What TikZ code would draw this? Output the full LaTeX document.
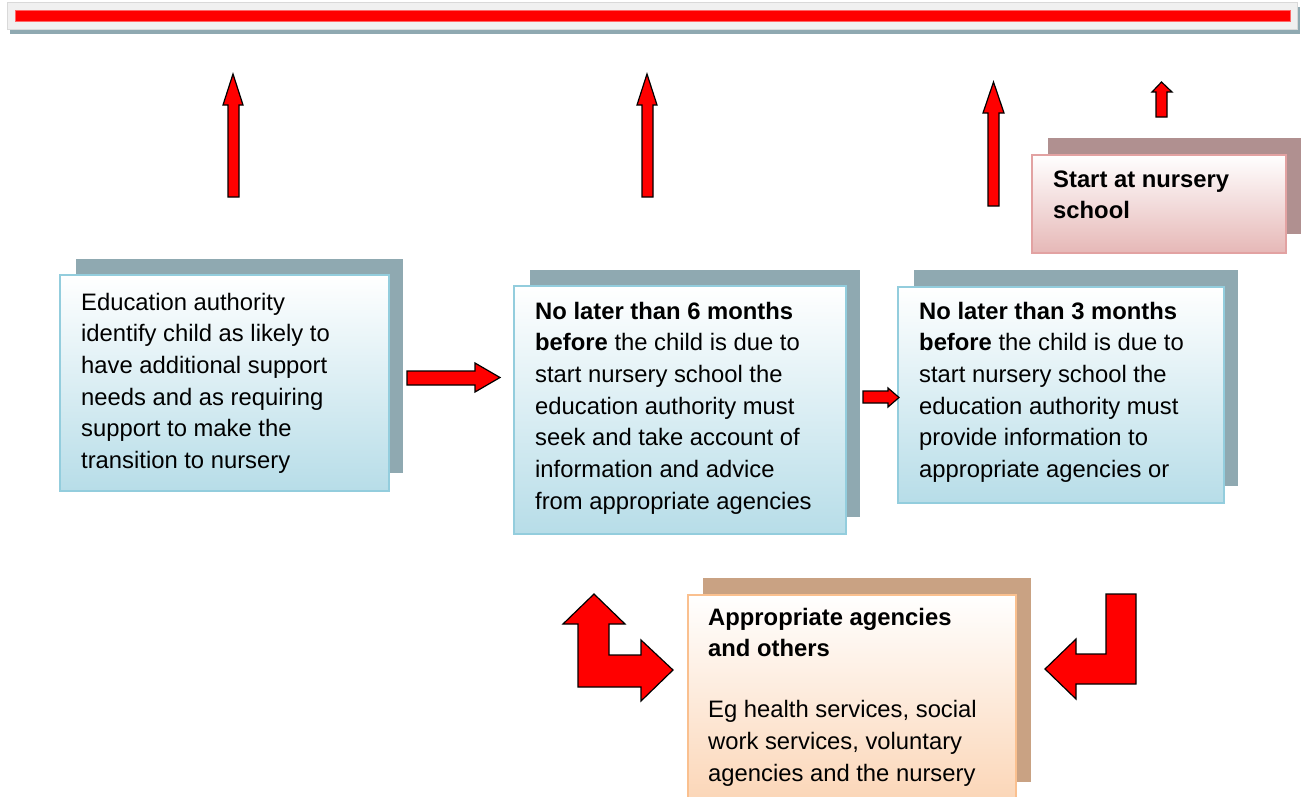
\documentclass[tikz,border=0pt]{standalone}
\usepackage{fontspec}
\setmainfont{Liberation Sans}
\definecolor{shadowblue}{HTML}{8FA9B1}
\definecolor{edgeblue}{HTML}{93CDDD}
\definecolor{fillblue}{HTML}{B7DDE8}
\definecolor{shadowrose}{HTML}{B09090}
\definecolor{edgerose}{HTML}{E2A2A2}
\definecolor{fillrose}{HTML}{E6B8B7}
\definecolor{shadowtan}{HTML}{C9A283}
\definecolor{edgetan}{HTML}{FAC08F}
\definecolor{filltan}{HTML}{FBD4B4}
\definecolor{barbg}{HTML}{F0F0F0}
\begin{document}
\begin{tikzpicture}[x=1pt,y=-1pt,
  shadowbox/.style={fill=#1, draw=none, anchor=north west, inner sep=0pt},
  frontbox/.style 2 args={draw=#1, line width=1.6pt, top color=white, bottom color=#2, anchor=north west, inner sep=0pt},
  txt/.style={anchor=north west, inner sep=0pt, align=left, font=\fontsize{23.8}{31.7}\selectfont},
  blockarrow/.style={fill=red, draw=black, line width=1.2pt, line join=miter}]
\useasboundingbox (0,0) rectangle (1304,796);

% top bar
\node[shadowbox=shadowblue, minimum width=1290pt, minimum height=27pt] (barshadow) at (10,7) {};
\node[anchor=north west, inner sep=0pt, fill=barbg, draw=barbg!80!gray, line width=0.6pt, minimum width=1290pt, minimum height=27pt] (barframe) at (7,2) {};
\node[anchor=north west, inner sep=0pt, fill=red, draw=red!60!white, line width=0.6pt, minimum width=1275pt, minimum height=11pt] (redbar) at (15,10) {};

% box 1
\node[shadowbox=shadowblue, minimum width=327pt, minimum height=214pt] (s1) at (76,259) {};
\node[frontbox={edgeblue}{fillblue}, minimum width=329pt, minimum height=216pt] (b1) at (59,274) {};
\node[txt] (t1) at (81,287.8) {\strut Education authority\\identify child as likely to\\have additional support\\needs and as requiring\\support to make the\\transition to nursery};

% box 2
\node[shadowbox=shadowblue, minimum width=330pt, minimum height=247pt] (s2) at (530,270) {};
\node[frontbox={edgeblue}{fillblue}, minimum width=332pt, minimum height=248pt] (b2) at (513,285) {};
\node[txt] (t2) at (535,296.8) {\strut\textbf{No later than 6 months}\\\textbf{before} the child is due to\\start nursery school the\\education authority must\\seek and take account of\\information and advice\\from appropriate agencies};

% box 3
\node[shadowbox=shadowblue, minimum width=324pt, minimum height=216pt] (s3) at (914,270) {};
\node[frontbox={edgeblue}{fillblue}, minimum width=326pt, minimum height=216pt] (b3) at (897,286) {};
\node[txt] (t3) at (919,296.8) {\strut\textbf{No later than 3 months}\\\textbf{before} the child is due to\\start nursery school the\\education authority must\\provide information to\\appropriate agencies or};

% start at nursery school
\node[shadowbox=shadowrose, minimum width=253pt, minimum height=96pt] (s5) at (1048,138) {};
\node[frontbox={edgerose}{fillrose}, minimum width=254pt, minimum height=98pt] (b5) at (1031,154) {};
\node[txt] (t5) at (1053,164.8) {\strut\textbf{Start at nursery}\\\textbf{school}};

% agencies
\node[shadowbox=shadowtan, minimum width=328pt, minimum height=204pt] (s4) at (703,578) {};
\node[frontbox={edgetan}{filltan}, minimum width=328pt, minimum height=216pt] (b4) at (687,594) {};
\node[txt] (t4) at (708,602.8) {\strut\textbf{Appropriate agencies}\\\textbf{and others}\\[29pt]Eg health services, social\\work services, voluntary\\agencies and the nursery};

% horizontal block arrows
\draw[blockarrow] (407,371) -- (475,371) -- (475,363) -- (500,377.5) -- (475,392) -- (475,385) -- (407,385) -- cycle;
\draw[blockarrow] (863,391) -- (888,391) -- (888,388) -- (899,397.5) -- (888,407) -- (888,403) -- (863,403) -- cycle;

% up block arrows
\draw[blockarrow] (228,197) -- (228,105) -- (223,105) -- (233,74) -- (243,105) -- (239,105) -- (239,197) -- cycle;
\draw[blockarrow] (642,197) -- (642,105) -- (637,105) -- (647,74) -- (657,105) -- (653,105) -- (653,197) -- cycle;
\draw[blockarrow] (988,206) -- (988,113) -- (983,113) -- (993.5,82) -- (1004,113) -- (999,113) -- (999,206) -- cycle;
\draw[blockarrow] (1156,117) -- (1156,92) -- (1152,92) -- (1161.5,82) -- (1172,92) -- (1167,92) -- (1167,117) -- cycle;

% bent arrows
\draw[blockarrow] (594,594) -- (625,624) -- (609,624) -- (609,655) -- (641,655) -- (641,640) -- (673,670) -- (641,701) -- (641,687) -- (578,687) -- (578,624) -- (563,624) -- cycle;
\draw[blockarrow] (1106,594) -- (1136,594) -- (1136,684) -- (1076,684) -- (1076,699) -- (1045,669) -- (1076,639) -- (1076,654) -- (1106,654) -- cycle;
\end{tikzpicture}
\end{document}
